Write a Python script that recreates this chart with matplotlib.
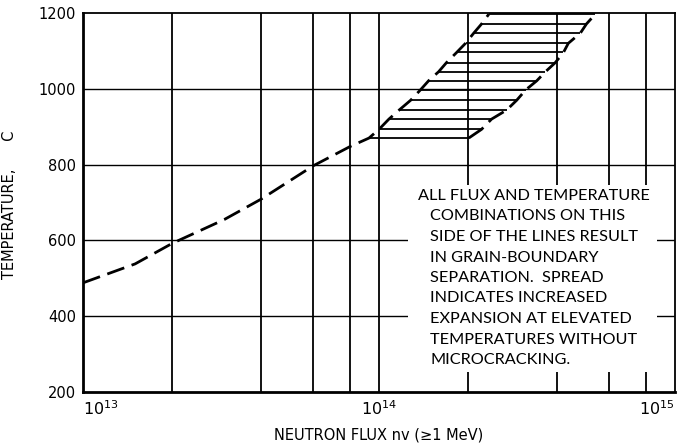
import matplotlib.pyplot as plt
from matplotlib.patches import Rectangle

# lower branch of the separation curve (flux in nv, temperature in C)
curve_flux = [1.0e13, 1.5e13, 2.0e13, 3.0e13, 4.0e13, 6.0e13, 8.0e13]
curve_temp = [488, 538, 592, 655, 709, 797, 848]

# spread band: hatch temperatures with left/right boundary fluxes
hatch_temp = [870, 893, 920, 944, 970, 997, 1021, 1045, 1069, 1096, 1120, 1147, 1171, 1197]
hatch_left = [9.25e13, 1.0e14, 1.08e14, 1.17e14, 1.28e14, 1.38e14, 1.47e14,
              1.59e14, 1.69e14, 1.83e14, 1.96e14, 2.09e14, 2.22e14, 2.35e14]
hatch_right = [2.01e14, 2.22e14, 2.40e14, 2.70e14, 2.92e14, 3.13e14, 3.41e14,
               3.65e14, 3.94e14, 4.20e14, 4.36e14, 4.79e14, 5.02e14, 5.38e14]

grid_flux = [2e13, 4e13, 6e13, 8e13, 1e14, 2e14, 4e14, 6e14, 8e14]
grid_temp = [400, 600, 800, 1000]
y_ticks = [200, 400, 600, 800, 1000, 1200]
x_ticks = [1e13, 1e14, 1e15]
x_labels = ['$10^{13}$', '$10^{14}$', '$10^{15}$']

note_lines = [
    'ALL FLUX AND TEMPERATURE',
    'COMBINATIONS ON THIS',
    'SIDE OF THE LINES RESULT',
    'IN GRAIN-BOUNDARY',
    'SEPARATION.  SPREAD',
    'INDICATES INCREASED',
    'EXPANSION AT ELEVATED',
    'TEMPERATURES WITHOUT',
    'MICROCRACKING.',
]

fig = plt.figure(figsize=(6.79, 4.45), dpi=100)
ax = fig.add_axes([83 / 679, 53 / 445, 592 / 679, 379 / 445])
ax.set_xscale('log')
ax.set_xlim(1e13, 1e15)
ax.set_ylim(200, 1200)

for f in grid_flux:
    ax.axvline(f, color='black', lw=1.3, zorder=1)
for t in grid_temp:
    ax.axhline(t, color='black', lw=1.0, zorder=1)

# white panel for the note, masks the grid behind it
ax.add_patch(Rectangle((0.549, 0.053), 0.421, 0.493, transform=ax.transAxes,
                       facecolor='white', edgecolor='none', zorder=2))

def px_to_axes(xp, yp):
    return (xp - 83) / 592, (392 - yp) / 379

for i, line in enumerate(note_lines):
    xp = 418 if i == 0 else 430
    yp = 196 + 20.5 * i
    xa, ya = px_to_axes(xp, yp)
    ax.text(xa, ya, line, transform=ax.transAxes, ha='left', va='center',
            fontsize=11.7, family='Lato', zorder=3)

dash = (0, (6.5, 2.8))
ax.plot(curve_flux + hatch_left, curve_temp + hatch_temp, color='black',
        lw=2.0, ls=dash, zorder=4)
ax.plot(hatch_right, hatch_temp, color='black', lw=2.0, ls=dash, zorder=4)
ax.hlines(hatch_temp, hatch_left, hatch_right, color='black', lw=1.3, zorder=4)

for side in ['left', 'bottom']:
    ax.spines[side].set_linewidth(2.0)
for side in ['top', 'right']:
    ax.spines[side].set_linewidth(1.3)

ax.set_yticks(y_ticks)
ax.set_yticklabels([str(v) for v in y_ticks], fontsize=10.5)
ax.set_xticks(x_ticks)
ax.set_xticklabels(x_labels, fontsize=11.5)
ax.xaxis.set_minor_locator(plt.NullLocator())
ax.tick_params(length=0, pad=5)
xt = ax.get_xticklabels()
xt[0].set_ha('left')
xt[-1].set_ha('right')

ax.set_ylabel('TEMPERATURE,      C', fontsize=10.5)
ax.yaxis.set_label_coords(-0.111, 0.493)
ax.set_xlabel('NEUTRON FLUX nv (\u22651 MeV)', fontsize=10.5, labelpad=7)

fig.savefig('out.png', dpi=100)
